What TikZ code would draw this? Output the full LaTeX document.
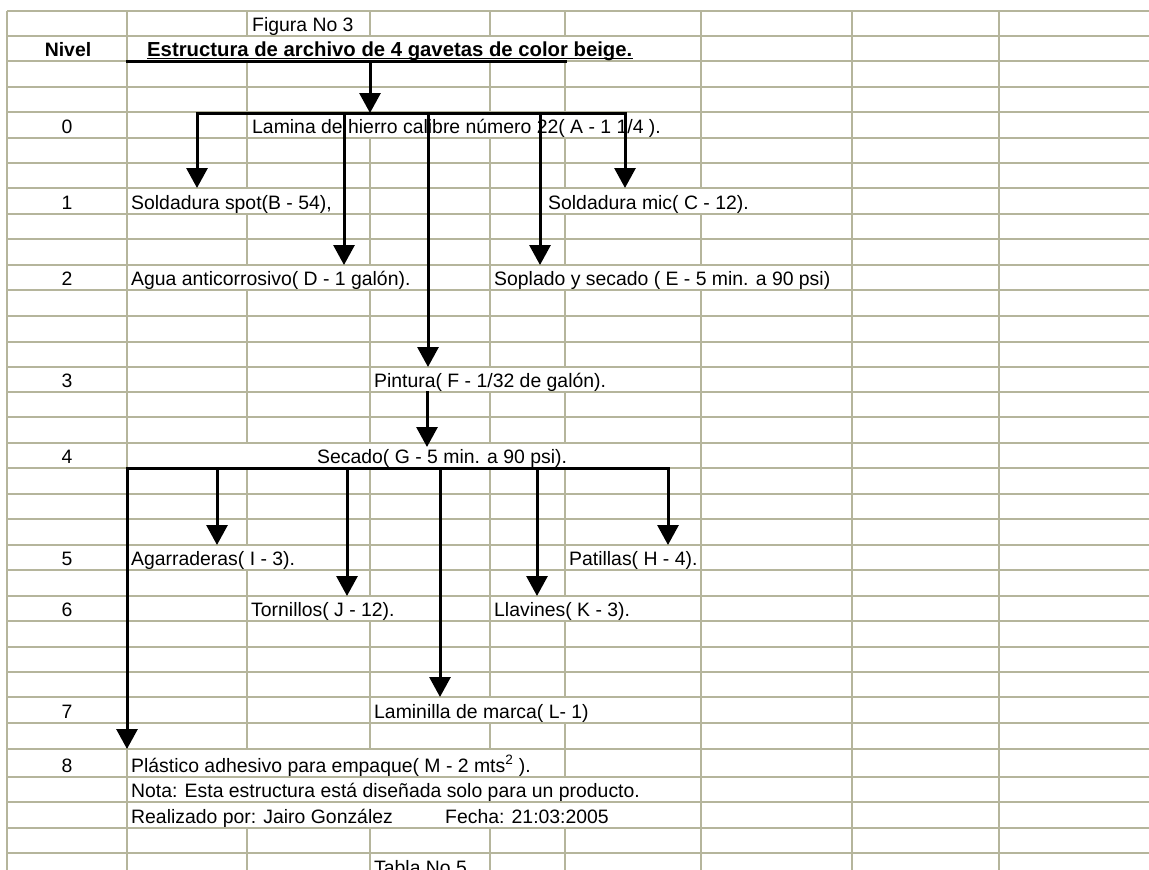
\documentclass[tikz,border=0pt]{standalone}
\usepackage{fontspec}
\setmainfont{Liberation Sans}
\usetikzlibrary{arrows.meta}
\definecolor{gridc}{RGB}{181,181,156}
\newcommand\hidecell[3]{\fill[white] (#1-2.6,#2+1.2) rectangle (#1+2.6,#3-1.2);}
\tikzset{
  lbl/.style={anchor=base west, inner sep=0pt, font=\fontsize{19.4}{22}\selectfont},
  numlbl/.style={anchor=base, inner sep=0pt, font=\fontsize{19.4}{22}\selectfont},
  titlelbl/.style={anchor=base west, inner sep=0pt, font=\fontsize{20.3}{23}\selectfont\bfseries},
  conn/.style={line width=3pt, line cap=rect},
  arr/.style={line width=3pt, -{Triangle[length=20pt,width=21pt]}},
  gridline/.style={draw=gridc, line width=1.5pt}}
\begin{document}
\begin{tikzpicture}[x=1pt,y=-1pt]
\useasboundingbox (0,0) rectangle (1149,870);
\fill[white] (0,0) rectangle (1149,870);
% ---- grid ----
\foreach \yy in {11,36,61,87,112,138,163,188,214,239,265,290,316,342,367,392,417,443,468,494,519,545,570,596,621,647,672,697,723,749,777,802,828,853}
  \draw[gridline] (7,\yy) -- (1149,\yy);
\foreach \xx in {7,127,247,370,490,565,701,852,999}
  \draw[gridline] (\xx,11) -- (\xx,870);
% cells overflowed by text
\foreach \xx in {247,370,490,565} {\hidecell{\xx}{36}{61}}
\foreach \xx in {370,490,565} {\hidecell{\xx}{112}{138}}
\foreach \xx in {247,565,701} {\hidecell{\xx}{188}{214}}
\foreach \xx in {247,370,565,701} {\hidecell{\xx}{265}{290}}
\foreach \xx in {490,565} {\hidecell{\xx}{367}{392}}
\foreach \xx in {247,370,490,565} {\hidecell{\xx}{443}{468}}
\hidecell{247}{545}{570}
\foreach \xx in {370,565} {\hidecell{\xx}{596}{621}}
\foreach \xx in {490,565} {\hidecell{\xx}{697}{723}}
\foreach \xx in {247,370,490} {\hidecell{\xx}{749}{777}}
\foreach \xx in {247,370,490,565} {\hidecell{\xx}{777}{802}}
\foreach \xx in {247,370,490,565} {\hidecell{\xx}{802}{828}}
% ---- texts ----
\node[lbl] (fig) at (252,31) {Figura No 3};
\node[numlbl] (nivel) at (68,56) {\bfseries Nivel};
\node[titlelbl] (title) at (147,56) {Estructura de archivo de 4 gavetas de color beige.};
\draw[line width=1.6pt] ([yshift=-2.6pt]title.base west) -- ([yshift=-2.6pt]title.base east);
\node[numlbl] (n0) at (67,133) {0};
\node[numlbl] (n1) at (67,209) {1};
\node[numlbl] (n2) at (67,285) {2};
\node[numlbl] (n3) at (67,387) {3};
\node[numlbl] (n4) at (67,463) {4};
\node[numlbl] (n5) at (67,565) {5};
\node[numlbl] (n6) at (67,616) {6};
\node[numlbl] (n7) at (67,718) {7};
\node[numlbl] (n8) at (67,772) {8};
\node[lbl] (A) at (252,133) {Lamina de hierro calibre número 22( A - 1 1/4 ).};
\node[lbl] (B) at (131,209) {Soldadura spot(B - 54),};
\node[lbl] (C) at (548,209) {Soldadura mic( C - 12).};
\node[lbl] (D) at (131,285) {Agua anticorrosivo( D - 1 galón).};
\node[lbl] (E) at (494,285) {Soplado y secado ( E - 5 min. a 90 psi)};
\node[lbl] (F) at (374,387) {Pintura( F - 1/32 de galón).};
\node[lbl] (G) at (317,463) {Secado( G - 5 min. a 90 psi).};
\node[lbl] (I) at (131,565) {Agarraderas( I - 3).};
\node[lbl] (H) at (569,565) {Patillas( H - 4).};
\node[lbl] (J) at (251,616) {Tornillos( J - 12).};
\node[lbl] (K) at (494,616) {Llavines( K - 3).};
\node[lbl] (L) at (374,718) {Laminilla de marca( L- 1)};
\node[lbl] (M) at (131,772) {Plástico adhesivo para empaque( M - 2 mts\textsuperscript{2} ).};
\node[lbl] (nota) at (131,797) {Nota: Esta estructura está diseñada solo para un producto.};
\node[lbl] (autor) at (131,823) {Realizado por: Jairo González};
\node[lbl] (fecha) at (445,823) {Fecha: 21:03:2005};
\begin{scope}
\clip (0,0) rectangle (1149,870);
\node[lbl] (tabla) at (374,874) {Tabla No 5};
\end{scope}
% ---- connectors ----
\coordinate (t0L) at (127,61);
\coordinate (t0R) at (565,61);
\coordinate (t0M) at (370,61);
\coordinate (b0M) at (370,113);
\draw[conn] (t0L) -- (t0R);
\draw[arr] (t0M) -- (b0M);
\coordinate (b0L) at (197,113);
\coordinate (b0R) at (625,113);
\coordinate (b0D) at (344,113);
\coordinate (b0F) at (428,113);
\coordinate (b0E) at (540,113);
\draw[conn] (b0L) -- (b0R);
\coordinate (tipB) at (197,188);
\coordinate (tipD) at (344,265);
\coordinate (tipF) at (428,367);
\coordinate (tipE) at (540,265);
\coordinate (tipC) at (625,188);
\draw[arr] (b0L) -- (tipB);
\draw[arr] (b0D) -- (tipD);
\draw[arr] (b0F) -- (tipF);
\draw[arr] (b0E) -- (tipE);
\draw[arr] (b0R) -- (tipC);
\coordinate (fOut) at (427,391);
\coordinate (tipG) at (427,447);
\draw[arr] (fOut) -- (tipG);
\coordinate (b4L) at (127,468);
\coordinate (b4R) at (668,468);
\coordinate (b4I) at (217,468);
\coordinate (b4J) at (347,468);
\coordinate (b4LL) at (440,468);
\coordinate (b4K) at (537,468);
\draw[conn] (b4L) -- (b4R);
\coordinate (tipM) at (127,749);
\coordinate (tipI) at (217,545);
\coordinate (tipJ) at (347,596);
\coordinate (tipL) at (440,697);
\coordinate (tipK) at (537,596);
\coordinate (tipH) at (668,545);
\draw[arr] (b4L) -- (tipM);
\draw[arr] (b4I) -- (tipI);
\draw[arr] (b4J) -- (tipJ);
\draw[arr] (b4LL) -- (tipL);
\draw[arr] (b4K) -- (tipK);
\draw[arr] (b4R) -- (tipH);
\end{tikzpicture}
\end{document}
